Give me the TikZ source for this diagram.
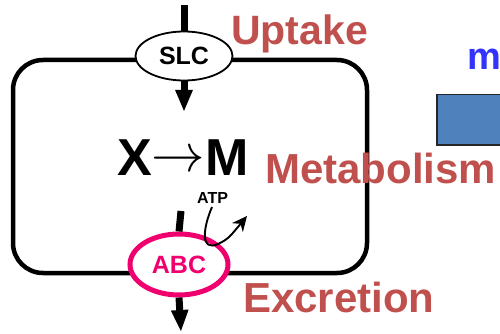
\documentclass[tikz,border=0pt]{standalone}
\usepackage{fontspec}
\setmainfont{Liberation Sans}
\usetikzlibrary{arrows.meta,shapes.geometric}
\definecolor{labelred}{RGB}{192,80,77}
\definecolor{abcpink}{RGB}{240,0,110}
\definecolor{mblue}{RGB}{51,51,255}
\definecolor{boxblue}{RGB}{79,129,189}
\tikzset{
  sz/.style={font=\fontsize{#1}{#1}\selectfont\bfseries},
  label/.style={inner sep=0pt, anchor=base west, text=labelred, sz=42},
  flow/.style={line width=7pt},
  flowtip/.style={line width=7pt, -{Triangle[length=22pt,width=16pt]}},
  carrier/.style={ellipse, draw, fill=white, inner sep=0pt},
}
\begin{document}
\begin{tikzpicture}[x=1pt,y=-1pt]
  \useasboundingbox (0,0) rectangle (500,334);

  % cell membrane
  \draw[line width=4.5pt, rounded corners=30pt] (13,60) rectangle (367,273);

  % transporters
  \node[carrier, line width=1.8pt, minimum width=97pt, minimum height=49pt, sz=25]
    (slc) at (184,56) {SLC};
  \node[carrier, draw=abcpink, line width=5pt, minimum width=98pt, minimum height=61pt,
        text=abcpink, sz=25] (abc) at (179,264.5) {ABC};

  % substrate flow
  \coordinate (in) at (184,5);
  \coordinate (inside) at (184,112);
  \coordinate (abcin) at (181,211);
  \coordinate (out) at (181,332);
  \draw[flow] (in) -- (slc.north);
  \draw[flowtip] (slc.south) -- (inside);
  \draw[flow] (abcin) -- (abc.north);
  \draw[flowtip] (abc.south) -- (out);

  % metabolism inside the cell
  \node[inner sep=0pt, anchor=base west, sz=52] (xm) at (117,175)
    {X\raisebox{4pt}{\scalebox{2.15}{$\rightarrow$}}M};
  \node[inner sep=0pt, anchor=base west, sz=16] (atp) at (197,203) {ATP};
  \coordinate (atpout) at (247,216);
  \draw[line width=1.9pt, -{Stealth[length=15pt,width=14pt]}]
    (212,207) .. controls (203,228) and (200,252) .. (218,244)
    .. controls (228,239) .. (atpout);

  % process labels
  \node[label, sz=41] (uptake) at (231,45) {Uptake};
  \node[label] (metab) at (265,183) {Metabolism};
  \node[label] (excr) at (243,312) {Excretion};

  % right-hand panel
  \node[inner sep=0pt, anchor=base west, text=mblue, sz=38] (m) at (467,70) {m};
  \node[draw=black!85, line width=1.5pt, fill=boxblue, minimum width=80pt,
        minimum height=50pt, anchor=north west] (box) at (436,94) {};
\end{tikzpicture}
\end{document}
